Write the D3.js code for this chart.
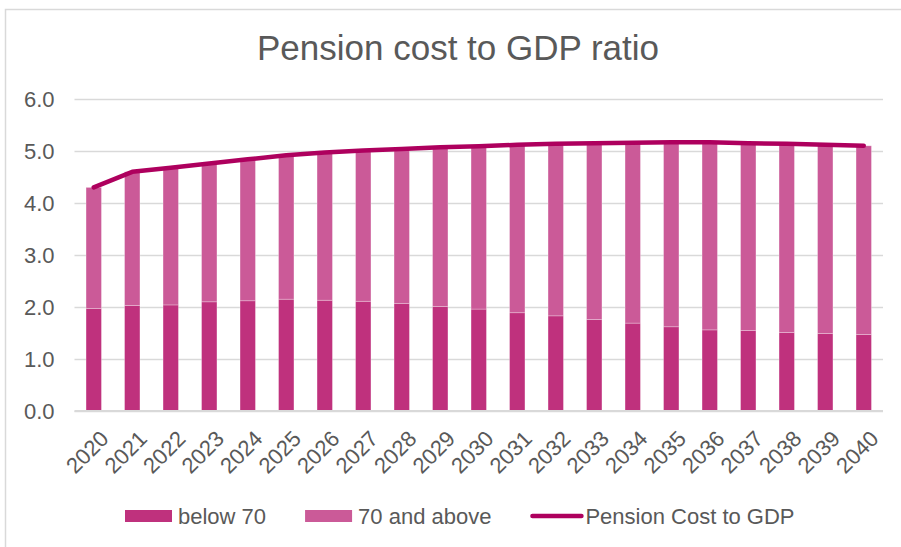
<!DOCTYPE html>
<html>
<head>
<meta charset="utf-8">
<script src="https://cdn.jsdelivr.net/npm/d3@7"></script>
<style>
  html, body { margin: 0; padding: 0; background: #fff; }
  svg { display: block; font-family: "Liberation Sans", Arial, sans-serif; }
</style>
</head>
<body>
<svg id="chart" width="901" height="547"></svg>
<script>
// values
const years = ["2020", "2021", "2022", "2023", "2024", "2025", "2026", "2027", "2028", "2029", "2030",
  "2031", "2032", "2033", "2034", "2035", "2036", "2037", "2038", "2039", "2040"];
const below70 = [1.97, 2.03, 2.04, 2.10, 2.12, 2.15, 2.13, 2.11, 2.07, 2.01, 1.96,
  1.89, 1.83, 1.76, 1.69, 1.62, 1.56, 1.55, 1.51, 1.49, 1.47];
const above70 = [2.33, 2.57, 2.64, 2.66, 2.72, 2.77, 2.84, 2.90, 2.97, 3.06, 3.13,
  3.23, 3.31, 3.39, 3.47, 3.55, 3.61, 3.60, 3.63, 3.63, 3.63];
const pensionCost = [4.30, 4.60, 4.68, 4.76, 4.84, 4.92, 4.97, 5.01, 5.04, 5.07, 5.09,
  5.12, 5.14, 5.15, 5.16, 5.17, 5.17, 5.15, 5.14, 5.12, 5.10];
const yTicks = [0, 1, 2, 3, 4, 5, 6];

const COLORS = { below: "#BF317D", above: "#CB5A98", line: "#AE005E", grid: "#D9D9D9", text: "#595959" };

const svg = d3.select("#chart");
const plot = { left: 74.5, right: 883, top: 99, bottom: 411 };

// chart frame (Excel-style border, cut off at right/bottom)
svg.append("rect")
  .attr("x", 5.5).attr("y", 9.5).attr("width", 1000).attr("height", 1000)
  .attr("fill", "none").attr("stroke", COLORS.grid).attr("stroke-width", 1.5);

svg.append("text")
  .attr("x", 458).attr("y", 60)
  .attr("text-anchor", "middle")
  .attr("font-size", 35)
  .attr("fill", COLORS.text)
  .text("Pension cost to GDP ratio");

const x = d3.scaleBand().domain(years).range([plot.left, plot.right]).paddingInner(0.6).paddingOuter(0.3);
const y = d3.scaleLinear().domain([0, 6]).range([plot.bottom, plot.top]);

// gridlines + y labels
const yAxis = svg.append("g")
  .attr("transform", `translate(${plot.left},0)`)
  .call(d3.axisLeft(y).tickValues(yTicks).tickFormat(d3.format(".1f"))
    .tickSize(-(plot.right - plot.left)).tickPadding(20));
yAxis.select(".domain").remove();
yAxis.selectAll(".tick line").attr("stroke", COLORS.grid).attr("stroke-width", 1.5);
yAxis.selectAll(".tick text")
  .attr("font-size", 22).attr("fill", COLORS.text)
  .attr("font-family", "Liberation Sans, Arial, sans-serif");

// stacked bars
const series = d3.stack().keys(["below", "above"])(years.map((yr, i) => ({ year: yr, below: below70[i], above: above70[i] })));
svg.append("g").selectAll("g").data(series).join("g")
  .attr("fill", d => COLORS[d.key])
  .selectAll("rect").data(d => d).join("rect")
  .attr("x", d => x(d.data.year))
  .attr("width", x.bandwidth())
  .attr("y", d => y(d[1]))
  .attr("height", d => y(d[0]) - y(d[1]))
  .attr("stroke", "#fff").attr("stroke-opacity", 0.35).attr("stroke-width", 0.8);

// x axis line + rotated labels
svg.append("line")
  .attr("x1", plot.left).attr("x2", plot.right)
  .attr("y1", y(0)).attr("y2", y(0))
  .attr("stroke", COLORS.grid).attr("stroke-width", 2);

svg.append("g").selectAll("text").data(years).join("text")
  .attr("transform", d => `translate(${x(d) + x.bandwidth() / 2 + 5},${plot.bottom + 18}) rotate(-45)`)
  .attr("text-anchor", "end")
  .attr("dy", "0.72em")
  .attr("font-size", 22)
  .attr("fill", COLORS.text)
  .text(d => d);

// pension cost line
const line = d3.line()
  .x((d, i) => x(years[i]) + x.bandwidth() / 2)
  .y(d => y(d));
svg.append("path")
  .datum(pensionCost)
  .attr("d", line)
  .attr("fill", "none")
  .attr("stroke", COLORS.line)
  .attr("stroke-width", 4.5)
  .attr("stroke-linecap", "round")
  .attr("stroke-linejoin", "round");

// legend
const legendItems = [
  { label: "below 70", type: "rect", color: COLORS.below },
  { label: "70 and above", type: "rect", color: COLORS.above },
  { label: "Pension Cost to GDP", type: "line", color: COLORS.line }
];
const legend = svg.append("g");
const legendY = 516;
let lx = 125;
legendItems.forEach(item => {
  if (item.type === "rect") {
    legend.append("rect").attr("x", lx).attr("y", legendY - 6).attr("width", 47).attr("height", 12).attr("fill", item.color);
    lx += 47 + 6;
  } else {
    legend.append("line").attr("x1", lx + 2).attr("x2", lx + 51).attr("y1", legendY).attr("y2", legendY)
      .attr("stroke", item.color).attr("stroke-width", 4.5).attr("stroke-linecap", "round");
    lx += 55;
  }
  const t = legend.append("text")
    .attr("x", lx).attr("y", legendY)
    .attr("dominant-baseline", "central")
    .attr("font-size", 22)
    .attr("fill", COLORS.text)
    .text(item.label);
  lx += t.node().getComputedTextLength() + 39;
});
</script>
</body>
</html>
